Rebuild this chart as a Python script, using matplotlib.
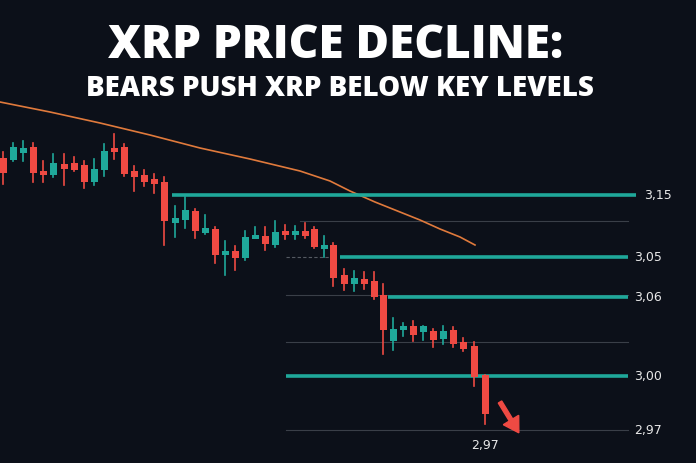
import matplotlib
matplotlib.use("Agg")
import matplotlib.pyplot as plt
from matplotlib.patches import FancyArrow

# candle data (chart units: screen-like scale, higher value = lower price)
cx    = [3,13,23,33,43,53,64,74,84,94,104,114,124,134,144,154,164,175,185,195,205,215,225,235,245,255,265,275,285,295,305,314,324,333,344,354,364,374,383,393,403,413,423,433,443,453,463,474,485]
opens = [159,159,152,148,172,174,165,164,166,181,169,149,148,172,176,180,183,222,219,212,232,230,254,252,257,238,237,244,232,234,232,230,248,246,276,283,280,282,296,340,329,327,331,332,338,331,343,347,376]
closes= [172,148,149,172,174,164,168,169,181,170,152,151,173,176,181,183,220,219,211,230,229,254,252,257,238,236,243,233,234,232,235,246,246,277,283,279,283,296,329,330,327,334,327,339,332,343,348,376,413]
highs = [153,144,142,144,162,155,155,158,162,160,145,135,145,167,171,175,178,207,198,210,216,228,242,247,232,228,228,222,226,227,224,228,237,244,270,272,273,273,285,319,324,322,327,330,327,328,339,343,376]
lows  = [185,162,162,183,183,178,186,172,189,186,177,160,177,192,187,194,246,238,229,239,235,264,276,271,261,238,251,248,240,240,239,249,258,287,291,292,290,300,355,351,337,342,341,348,345,348,352,387,425]

ma_x = [0,50,100,150,200,250,300,330,350,375,400,420,440,460,475]
ma_y = [103,113,124,136,149,160,172,182,192,203,213,221,230,238,246]

levels = [196,258,298,377]
level_start = [172,340,388,286]
level_end = [636,628,628,628]
level_labels = ["3,15","3,05","3,06","3,00"]
grid_y = [222,296,343,431]
grid_start = [300,286,286,286]

BG = "#0c1019"
TEAL = "#1fa89a"
RED = "#ef4a43"

fig = plt.figure(figsize=(6.96,4.64), dpi=100, facecolor=BG)
ax = fig.add_axes([0,0,1,1])
ax.set_facecolor(BG)
ax.set_xlim(0,696); ax.set_ylim(464,0); ax.axis("off")

for y,x0 in zip(grid_y,grid_start):
    ax.plot([x0,628],[y,y],color="#3a3f48",lw=0.8,zorder=1)
ax.plot([286,336],[258,258],color="#555a62",lw=0.8,ls=(0,(3,2)),zorder=1)
ax.text(634,431,"2,97",color="#e8e8e8",fontsize=9,va="center")

for y,x0,x1,lab in zip(levels,level_start,level_end,level_labels):
    ax.plot([x0,x1],[y,y],color=TEAL,lw=2.6,solid_capstyle="butt",zorder=3)
    ax.text(x1+(634-x1) if x1<634 else 644,y,lab,color="#e8e8e8",fontsize=9,va="center")

ax.plot(ma_x,ma_y,color="#e07a3c",lw=1.2,zorder=2)

for x,o,c,h,l in zip(cx,opens,closes,highs,lows):
    col = RED if c>o else TEAL
    ax.plot([x,x],[h,l],color=col,lw=1.2,zorder=4)
    ax.bar(x,abs(c-o)+1.5,bottom=min(o,c),width=7,color=col,zorder=5)

ax.text(485,446,"2,97",color="#e8e8e8",fontsize=9,ha="center",va="center")
ax.add_patch(FancyArrow(500,403,11,18,width=4,head_width=18,head_length=15,color=RED,zorder=6))

ax.text(336,46,"XRP PRICE DECLINE:",color="white",fontsize=33,fontweight="heavy",ha="center",va="center",family="Open Sans")
ax.text(340,88,"BEARS PUSH XRP BELOW KEY LEVELS",color="white",fontsize=20,fontweight="heavy",ha="center",va="center",family="Open Sans")

fig.savefig("out.png",dpi=100,facecolor=BG)
